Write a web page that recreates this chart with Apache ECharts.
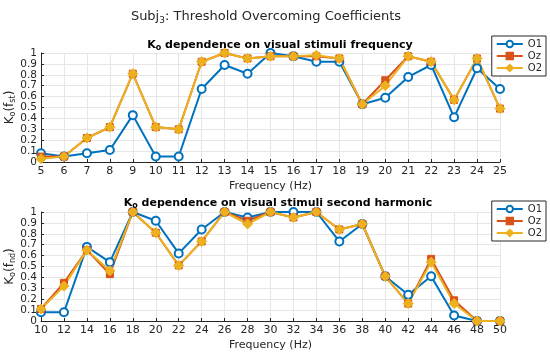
<!DOCTYPE html>
<html><head><meta charset="utf-8">
<script src="https://cdn.jsdelivr.net/npm/echarts@6/dist/echarts.min.js"></script>
<style>html,body{margin:0;padding:0;background:#fff}#c{width:550px;height:355px}</style>
</head><body><div id="c"></div>
<script>
const freq1 = [5,6,7,8,9,10,11,12,13,14,15,16,17,18,19,20,21,22,23,24,25];
const o1_top = [0.08,0.05,0.08,0.11,0.43,0.05,0.05,0.67,0.89,0.81,1.0,0.97,0.92,0.92,0.53,0.59,0.78,0.89,0.41,0.86,0.67];
const oz_top = [0.05,0.05,0.22,0.32,0.81,0.32,0.30,0.92,1.0,0.95,0.97,0.97,0.97,0.95,0.53,0.75,0.97,0.92,0.57,0.95,0.49];
const o2_top = [0.03,0.05,0.22,0.32,0.81,0.32,0.30,0.92,1.0,0.95,0.97,0.97,0.98,0.95,0.53,0.70,0.97,0.92,0.57,0.95,0.49];

const freq2 = [10,12,14,16,18,20,22,24,26,28,30,32,34,36,38,40,42,44,46,48,50];
const o1_bot = [0.08,0.08,0.68,0.54,1.0,0.92,0.62,0.84,1.0,0.95,1.0,1.0,1.0,0.73,0.89,0.41,0.24,0.41,0.05,0.0,0.0];
const oz_bot = [0.11,0.35,0.65,0.43,1.0,0.81,0.51,0.73,1.0,0.92,1.0,0.95,1.0,0.84,0.89,0.41,0.16,0.57,0.19,0.0,0.0];
const o2_bot = [0.11,0.32,0.65,0.46,1.0,0.81,0.51,0.73,1.0,0.89,1.0,0.95,1.0,0.84,0.89,0.41,0.16,0.54,0.16,0.0,0.0];

const seriesNames = ['O1','Oz','O2'];
const yTicks = [0,0.1,0.2,0.3,0.4,0.5,0.6,0.7,0.8,0.9,1];

const C1 = '#0072BD', C2 = '#D95319', C3 = '#EDB120';
const FONT = 'DejaVu Sans';

function pairs(xs, ys){ return xs.map((x,i)=>[x, ys[i]]); }

function mkSeries(xs, a, b, c, idx){
  const base = {type:'line', xAxisIndex: idx, yAxisIndex: idx, z:2};
  return [
    Object.assign({}, base, {name:'O1', data: pairs(xs,a), color:C1, symbol:'circle', symbolSize:8,
      itemStyle:{color:'#ffffff', borderColor:C1, borderWidth:2}, lineStyle:{width:2,color:C1}}),
    Object.assign({}, base, {name:'Oz', data: pairs(xs,b), color:C2, symbol:'rect', symbolSize:7,
      itemStyle:{color:C2, borderColor:C2, borderWidth:1}, lineStyle:{width:2,color:C2}}),
    Object.assign({}, base, {name:'O2', data: pairs(xs,c), color:C3, symbol:'diamond', symbolSize:10,
      itemStyle:{color:C3, borderColor:C3, borderWidth:1}, lineStyle:{width:2,color:C3}})
  ];
}

const axisCommon = {
  axisLine:{show:true, onZero:false, lineStyle:{color:'#262626', width:1}},
  axisTick:{show:true, inside:true, length:3, lineStyle:{color:'#262626'}},
  splitLine:{show:true, lineStyle:{color:'#e6e6e6', width:1}},
  axisLabel:{color:'#262626', fontFamily:FONT, fontSize:11, margin:4, showMinLabel:true, showMaxLabel:true, hideOverlap:false}
};

function yAxis(idx, sub){
  return Object.assign({}, axisCommon, {
    type:'value', gridIndex: idx, min:0, max:1, interval:0.1,
    axisLabel:Object.assign({}, axisCommon.axisLabel, {fontSize:10.5, formatter: v => {
      const t = yTicks.find(t => Math.abs(t - v) < 1e-6);
      return t === undefined ? '' : String(t);
    }}),
    name: '{k|K}{s|o}{k|(f}{s|' + sub + '}{k|)}',
    nameLocation:'middle', nameRotate:90, nameGap:24, nameMoveOverlap:false,
    nameTextStyle:{rich:{
      k:{fontFamily:FONT, fontSize:12, color:'#262626'},
      s:{fontFamily:FONT, fontSize:8, color:'#262626', verticalAlign:'bottom', padding:[6,0,0,0]}
    }}
  });
}

function xAxis(idx, min, max, interval){
  return Object.assign({}, axisCommon, {
    type:'value', gridIndex: idx, min:min, max:max, interval:interval,
    name:'Frequency (Hz)', nameLocation:'middle', nameGap:19, nameMoveOverlap:false,
    nameTextStyle:{fontFamily:FONT, fontSize:11, color:'#262626'}
  });
}

const legendCommon = {data:seriesNames, orient:'vertical', right:4, itemWidth:26, itemHeight:8, itemGap:2,
  padding:[3,4,3,4], borderColor:'#262626', borderWidth:1, backgroundColor:'#fff',
  textStyle:{fontFamily:FONT, fontSize:10, color:'#262626'}};

const chart = echarts.init(document.getElementById('c'), null, {renderer:'canvas'});
chart.setOption({
  backgroundColor:'#ffffff',
  animation:false,
  title:[
    {text:'{t|Subj}{s|3}{t|: Threshold Overcoming Coefficients}', left:261, top:3, textAlign:'center',
      textStyle:{fontWeight:'normal', rich:{t:{fontFamily:FONT, fontSize:13, fontWeight:'normal', color:'#262626'}, s:{fontFamily:FONT, fontSize:9, fontWeight:'normal', color:'#262626', verticalAlign:'bottom', padding:[8,0,0,0]}}}},
    {text:'{t|K}{s|o}{t| dependence on visual stimuli frequency}', left:275, top:33, textAlign:'center',
      textStyle:{rich:{t:{fontFamily:FONT, fontSize:11, fontWeight:'bold', color:'#000'}, s:{fontFamily:FONT, fontSize:8, fontWeight:'bold', color:'#000', padding:[6,0,0,0]}}}},
    {text:'{t|K}{s|o}{t| dependence on visual stimuli second harmonic}', left:273, top:191, textAlign:'center',
      textStyle:{rich:{t:{fontFamily:FONT, fontSize:11, fontWeight:'bold', color:'#000'}, s:{fontFamily:FONT, fontSize:8, fontWeight:'bold', color:'#000', padding:[6,0,0,0]}}}}
  ],
  legend:[
    Object.assign({}, legendCommon, {top:36}),
    Object.assign({}, legendCommon, {top:201})
  ],
  grid:[
    {left:41, right:50, top:53, height:109, containLabel:false, outerBoundsMode:'none'},
    {left:41, right:50, top:212, height:109, containLabel:false, outerBoundsMode:'none'}
  ],
  xAxis:[xAxis(0,5,25,1), xAxis(1,10,50,2)],
  yAxis:[yAxis(0,'st'), yAxis(1,'nd')],
  series:[].concat(mkSeries(freq1,o1_top,oz_top,o2_top,0), mkSeries(freq2,o1_bot,oz_bot,o2_bot,1))
});
</script></body></html>
